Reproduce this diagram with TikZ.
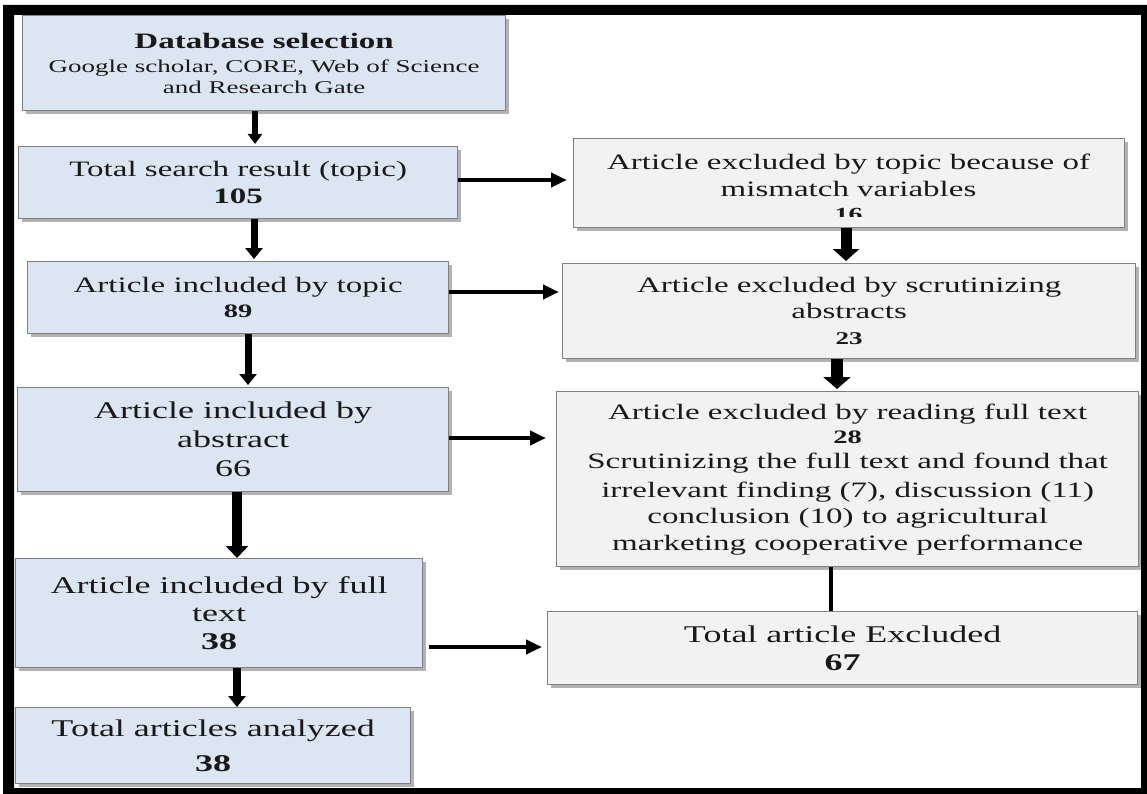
\documentclass[tikz,border=0pt]{standalone}
\usepackage{fontspec}
\setmainfont{Liberation Serif}[FakeStretch=1.5]
\usetikzlibrary{arrows.meta,shadows}
\definecolor{boxblue}{RGB}{220,230,242}
\definecolor{boxgray}{RGB}{242,242,242}
\definecolor{edgegray}{RGB}{128,128,128}
\definecolor{ink}{RGB}{25,25,25}
\begin{document}
\begin{tikzpicture}[x=1pt,y=-1pt,
  box/.style={draw=edgegray, line width=1.3pt, anchor=north west, inner sep=2pt,
    align=center, text=ink, font=\fontsize{22}{26}\selectfont,
    drop shadow={shadow xshift=3pt,shadow yshift=-3pt,opacity=0.3,fill=black}},
  bluebox/.style={box, fill=boxblue},
  graybox/.style={box, fill=boxgray},
  txt/.style={align=center, text=ink, inner sep=0pt},
  arrowline/.style n args={3}{draw=black, line width=#1, -{Triangle[length=#2,width=#3]}}
]
\useasboundingbox (0,0) rectangle (1147,794);

% left column
\node[bluebox, minimum width=483pt, minimum height=95pt, font=\fontsize{18}{21}\selectfont] (db) at (22,15)
  {{\fontsize{22}{21}\selectfont\bfseries Database selection}\\[3pt]Google scholar, CORE, Web of Science\\and Research Gate};
\node[bluebox, minimum width=439pt, minimum height=72pt, font=\fontsize{22}{27}\selectfont] (search) at (18,146)
  {Total search result (topic)\\\textbf{105}};
\node[bluebox, minimum width=421pt, minimum height=72pt, font=\fontsize{22}{25}\selectfont] (topic) at (27,261)
  {Article included by topic\\{\fontsize{19}{25}\selectfont\bfseries 89}};
\node[bluebox, minimum width=431pt, minimum height=104pt, font=\fontsize{24}{29}\selectfont] (abstract) at (17,387)
  {Article included by\\abstract\\66};
\node[bluebox, minimum width=407pt, minimum height=109pt, font=\fontsize{24}{28}\selectfont] (fulltext) at (15,558)
  {Article included by full\\text\\\textbf{38}};
\node[bluebox, minimum width=395pt, minimum height=76pt, font=\fontsize{24}{35}\selectfont] (analyzed) at (15,707)
  {Total articles analyzed\\\textbf{38}};

% right column
\node[graybox, minimum width=551pt, minimum height=89pt] (extopic) at (573,138) {};
\node[txt, font=\fontsize{22}{27}\selectfont] (extopictxt) at (848.5,175.5)
  {Article excluded by topic because of\\mismatch variables};
\begin{scope}
  \clip (573,138) rectangle (1124,217);
  \node[txt, anchor=base, font=\fontsize{18.5}{20}\selectfont\bfseries] (ex16) at (848.5,220.5) {16};
\end{scope}
\node[graybox, minimum width=573pt, minimum height=95pt] (exscrut) at (562,263)
  {Article excluded by scrutinizing\\abstracts\\{\fontsize{18}{26}\selectfont\bfseries 23}};
\node[graybox, minimum width=582pt, minimum height=175pt] (exread) at (556,391)
  {Article excluded by reading full text\\[-2pt]{\fontsize{19}{26}\selectfont\bfseries 28}\\[-1pt]Scrutinizing the full text and found that\\[3pt]irrelevant finding (7), discussion (11)\\conclusion (10) to agricultural\\[1pt]marketing cooperative performance};
\node[graybox, minimum width=590pt, minimum height=73pt, font=\fontsize{24}{28}\selectfont] (totex) at (547,611)
  {Total article Excluded\\\textbf{67}};

% arrow positions
\coordinate (v1) at (255,0);
\coordinate (v2) at (254,0);
\coordinate (v3) at (248,0);
\coordinate (v4) at (237,0);
\coordinate (v6) at (846,0);
\coordinate (v7) at (837,0);
\coordinate (v8) at (831,0);
\coordinate (h1) at (0,180);
\coordinate (h2) at (0,292);
\coordinate (h3) at (0,438);
\coordinate (h4) at (0,647);

% vertical arrows, left
\draw[arrowline={5.5pt}{10pt}{14pt}] (db.south -| v1) -- ([yshift=2pt]search.north -| v1);
\draw[arrowline={7pt}{11pt}{17pt}] (search.south -| v2) -- ([yshift=2pt]topic.north -| v2);
\draw[arrowline={7pt}{11pt}{17pt}] (topic.south -| v3) -- ([yshift=2pt]abstract.north -| v3);
\draw[arrowline={10pt}{12pt}{22pt}] (abstract.south -| v4) -- (fulltext.north -| v4);
\draw[arrowline={8pt}{11pt}{17pt}] (fulltext.south -| v4) -- (analyzed.north -| v4);

% vertical arrows, right
\draw[arrowline={11pt}{12pt}{26pt}] (extopic.south -| v6) -- ([yshift=2pt]exscrut.north -| v6);
\draw[arrowline={12pt}{12pt}{27pt}] (exscrut.south -| v7) -- ([yshift=2pt]exread.north -| v7);
\draw[line width=4.5pt] (exread.south -| v8) -- (totex.north -| v8);

% horizontal arrows
\draw[arrowline={4.5pt}{16pt}{14pt}] (search.east |- h1) -- ([xshift=-6pt]extopic.west |- h1);
\draw[arrowline={4.5pt}{16pt}{14pt}] (topic.east |- h2) -- ([xshift=-3pt]exscrut.west |- h2);
\draw[arrowline={4.5pt}{16pt}{14pt}] (abstract.east |- h3) -- ([xshift=-10pt]exread.west |- h3);
\draw[arrowline={4.5pt}{16pt}{14pt}] ([xshift=6pt]fulltext.east |- h4) -- ([xshift=-5pt]totex.west |- h4);

% outer frame
\fill[black, even odd rule] (3,5) rectangle (1147,794) (14,15) rectangle (1141,788);
\end{tikzpicture}
\end{document}
